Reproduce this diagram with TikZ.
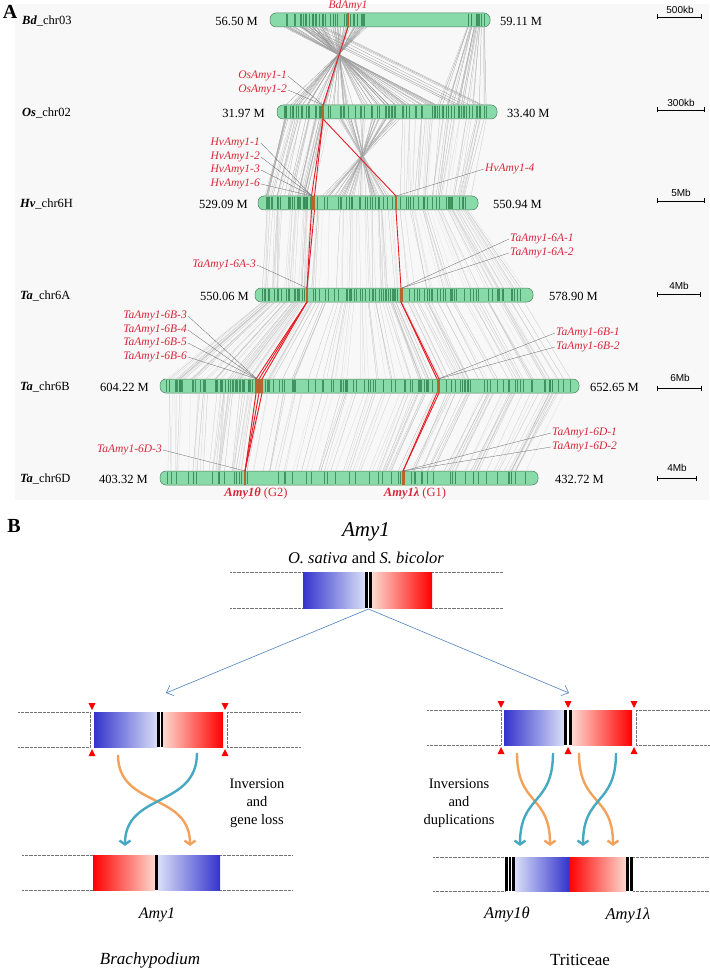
\documentclass[tikz,border=0pt]{standalone}
\usepackage{fontspec}
\setmainfont{Liberation Serif}
\newfontfamily\barfont{Liberation Sans}
\usepackage{xcolor}
\usetikzlibrary{calc,arrows.meta,positioning}
\definecolor{panelbg}{HTML}{F8F8F8}
\definecolor{chromfill}{HTML}{88DAA8}
\definecolor{chromdark}{HTML}{3A8C58}
\definecolor{chromedge}{HTML}{4C7F60}
\definecolor{genered}{HTML}{E41E26}
\definecolor{labred}{HTML}{D8273A}
\definecolor{genebox}{HTML}{B5652E}
\definecolor{bluedark}{HTML}{3434CC}
\definecolor{bluelight}{HTML}{D8DEF7}
\definecolor{redlight}{HTML}{FCD8CE}
\definecolor{reddark}{HTML}{FF0000}
\definecolor{arroworange}{HTML}{F2A25A}
\definecolor{arrowteal}{HTML}{46A9C1}
\definecolor{linkblue}{HTML}{4F81BD}

\tikzset{
  chrom/.style={fill=chromfill, draw=chromedge, line width=0.5pt, rounded corners=6pt},
  synline/.style={line width=0.25pt},
  stripe/.style={draw=chromdark},
  redlink/.style={draw=genered, line width=0.9pt},
  leader/.style={draw=black!60, line width=0.3pt},
  genelab/.style={text=labred, font=\fontsize{11.5}{13}\selectfont\itshape, inner sep=1pt},
  chromlab/.style={font=\fontsize{12.5}{14}\selectfont, inner sep=0pt},
  scalebar/.style={line width=0.8pt, {Bar[width=5pt]}-{Bar[width=5pt]}},
  scalelab/.style={font=\barfont\fontsize{10}{11}\selectfont, inner sep=0pt},
  dotline/.style={draw=black!55, line width=0.4pt, dash pattern=on 0.5pt off 0.8pt},
  conn/.style={draw=linkblue, line width=0.6pt, -{Straight Barb[length=6pt,width=11pt]}},
  swapO/.style={draw=arroworange, line width=2.4pt, -{Straight Barb[length=4pt,width=11pt]}},
  swapT/.style={draw=arrowteal, line width=2.4pt, -{Straight Barb[length=4pt,width=11pt]}},
  cuttri/.style={fill=reddark},
  textB/.style={font=\fontsize{14.5}{18}\selectfont, align=center},
  nameB/.style={font=\fontsize{17}{20}\selectfont},
}

% upper y, lower y, upper range a1 a2, lower range b1 b2, count, base grey
\newcommand{\synblock}[8]{%
  \foreach \k in {1,...,#7}{
    \pgfmathsetmacro\synT{rnd}
    \pgfmathsetmacro\synA{#3+\synT*(#4-#3)}
    \pgfmathsetmacro\synB{#5+\synT*(#6-#5)+(rnd-0.5)*6}
    \pgfmathtruncatemacro\synG{#8+22*rnd}
    \pgfmathsetmacro\synW{0.3+0.8*rnd}
    \pgfmathsetmacro\synO{rnd<0.45 ? 0.9 : 0}
    \pgfmathsetmacro\synP{rnd<0.45 ? 0.9 : 0}
    \draw[synline, draw=black!\synG] (\synA,#1+7) -- (\synB,#2-7);
    \draw[stripe, line width=\synW pt, opacity=\synO] (\synA,#1-6.3) -- (\synA,#1+6.3);
    \draw[stripe, line width=\synW pt, opacity=\synP] (\synB,#2-6.3) -- (\synB,#2+6.3);
  }}
\newcommand{\genemark}[2]{%
  \fill[genebox] ([xshift=-#2,yshift=-7pt]#1) rectangle ([xshift=#2,yshift=7pt]#1);}
\newcommand{\cutmarks}[3]{% x, top y, bottom y
  \fill[cuttri] (#1-3.5,#2-9) -- (#1+3.5,#2-9) -- (#1,#2-2) -- cycle;
  \fill[cuttri] (#1-3.5,#3+9) -- (#1+3.5,#3+9) -- (#1,#3+2) -- cycle;}

\begin{document}
\begin{tikzpicture}[x=1pt, y=-1pt]
  \useasboundingbox (0,0) rectangle (709,973);
  \pgfmathsetseed{12}

  % ---------- panel A ----------
  \fill[panelbg] (15,4) rectangle (709,500);
  \node[font=\fontsize{20}{22}\selectfont\bfseries] (labA) at (10,12) {A};

  \draw[chrom] (270,13) rectangle (490,27);
  \draw[chrom] (277,105) rectangle (497,119);
  \draw[chrom] (258,196) rectangle (478,210);
  \draw[chrom] (255,288) rectangle (533,302);
  \draw[chrom] (160,379) rectangle (579,393);
  \draw[chrom] (160,471) rectangle (538,485);

  % Bd -> Os
  \synblock{20}{112}{283}{368}{440}{286}{70}{28}
  \synblock{20}{112}{300}{330}{455}{488}{8}{28}
  \synblock{20}{112}{467}{485}{437}{487}{25}{22}
  % Os -> Hv
  \synblock{112}{203}{284}{330}{265}{312}{40}{18}
  \synblock{112}{203}{335}{400}{392}{322}{40}{22}
  \synblock{112}{203}{400}{490}{400}{471}{40}{12}
  % Hv -> 6A
  \synblock{203}{295}{264}{313}{262}{307}{30}{10}
  \synblock{203}{295}{313}{396}{307}{401}{35}{10}
  \synblock{203}{295}{396}{471}{401}{526}{40}{10}
  % 6A -> 6B
  \synblock{295}{386}{262}{307}{167}{258}{40}{10}
  \synblock{295}{386}{307}{401}{258}{438}{50}{10}
  \synblock{295}{386}{401}{526}{438}{572}{45}{10}
  % 6B -> 6D
  \synblock{386}{478}{167}{258}{167}{245}{40}{10}
  \synblock{386}{478}{258}{438}{245}{403}{50}{10}
  \synblock{386}{478}{438}{572}{403}{531}{45}{10}

  % genes
  \coordinate (bd1) at (348,20);
  \coordinate (os1) at (323,112);
  \coordinate (hv1) at (313,203);
  \coordinate (hv4) at (396,203);
  \coordinate (a3) at (307,295);
  \coordinate (a1) at (401,295);
  \coordinate (b3) at (259,386);
  \coordinate (b1) at (438,386);
  \coordinate (d3) at (245,478);
  \coordinate (d1) at (403,478);

  \draw[redlink] ([yshift=-7pt]bd1) -- ([yshift=7pt]os1);
  \draw[redlink] ([yshift=-7pt]os1) -- ([xshift=-1.5pt,yshift=7pt]hv1);
  \draw[redlink] ([yshift=-7pt]os1) -- ([xshift=1.5pt,yshift=7pt]hv1);
  \draw[redlink] ([yshift=-7pt]os1) -- ([yshift=7pt]hv4);
  \draw[redlink] ([xshift=-1.5pt,yshift=-7pt]hv1) -- ([yshift=7pt]a3);
  \draw[redlink] ([xshift=1.5pt,yshift=-7pt]hv1) -- ([yshift=7pt]a3);
  \draw[redlink] ([yshift=-7pt]hv4) -- ([yshift=7pt]a1);
  \draw[redlink] ([yshift=-7pt]a3) -- ([xshift=-3pt,yshift=7pt]b3);
  \draw[redlink] ([yshift=-7pt]a3) -- ([xshift=0pt,yshift=7pt]b3);
  \draw[redlink] ([yshift=-7pt]a3) -- ([xshift=3pt,yshift=7pt]b3);
  \draw[redlink] ([yshift=-7pt]a1) -- ([xshift=-1pt,yshift=7pt]b1);
  \draw[redlink] ([yshift=-7pt]a1) -- ([xshift=1pt,yshift=7pt]b1);
  \draw[redlink] ([xshift=-3pt,yshift=-7pt]b3) -- ([yshift=7pt]d3);
  \draw[redlink] ([yshift=-7pt]b3) -- ([yshift=7pt]d3);
  \draw[redlink] ([xshift=3pt,yshift=-7pt]b3) -- ([yshift=7pt]d3);
  \draw[redlink] ([xshift=-1pt,yshift=-7pt]b1) -- ([yshift=7pt]d1);
  \draw[redlink] ([xshift=1pt,yshift=-7pt]b1) -- ([yshift=7pt]d1);

  \genemark{bd1}{1pt}
  \genemark{os1}{1.2pt}
  \genemark{hv1}{2pt}
  \genemark{hv4}{1pt}
  \genemark{a3}{1pt}
  \genemark{a1}{1.5pt}
  \genemark{b3}{4pt}
  \genemark{b1}{1.5pt}
  \genemark{d3}{1pt}
  \genemark{d1}{1.5pt}

  % chromosome names and ends
  \node[chromlab, anchor=west] (nBd) at (22,21) {{\bfseries\itshape Bd}\_chr03};
  \node[chromlab, anchor=west] (nOs) at (22,113) {{\bfseries\itshape Os}\_chr02};
  \node[chromlab, anchor=west] (nHv) at (20,204) {{\bfseries\itshape Hv}\_chr6H};
  \node[chromlab, anchor=west] (nA) at (20,296) {{\bfseries\itshape Ta}\_chr6A};
  \node[chromlab, anchor=west] (nB) at (20,387) {{\bfseries\itshape Ta}\_chr6B};
  \node[chromlab, anchor=west] (nD) at (20,479) {{\bfseries\itshape Ta}\_chr6D};

  \node[chromlab, anchor=east] (sBd) at (258,21) {56.50 M};
  \node[chromlab, anchor=west] (eBd) at (500,21) {59.11 M};
  \node[chromlab, anchor=east] (sOs) at (265,113) {31.97 M};
  \node[chromlab, anchor=west] (eOs) at (507,113) {33.40 M};
  \node[chromlab, anchor=east] (sHv) at (248,204) {529.09 M};
  \node[chromlab, anchor=west] (eHv) at (493,204) {550.94 M};
  \node[chromlab, anchor=east] (sA) at (249,296) {550.06 M};
  \node[chromlab, anchor=west] (eA) at (549,296) {578.90 M};
  \node[chromlab, anchor=east] (sB) at (149,387) {604.22 M};
  \node[chromlab, anchor=west] (eB) at (590,387) {652.65 M};
  \node[chromlab, anchor=east] (sD) at (148,479) {403.32 M};
  \node[chromlab, anchor=west] (eD) at (555,479) {432.72 M};

  % scale bars
  \draw[scalebar] (657,17) -- (702,17);
  \node[scalelab] (kBd) at (680,10) {500kb};
  \draw[scalebar] (657,110) -- (705,110);
  \node[scalelab] (kOs) at (681,103) {300kb};
  \draw[scalebar] (657,201) -- (705,201);
  \node[scalelab] (kHv) at (681,193) {5Mb};
  \draw[scalebar] (657,294) -- (701,294);
  \node[scalelab] (kA) at (679,286) {4Mb};
  \draw[scalebar] (657,388) -- (702,388);
  \node[scalelab] (kB) at (680,378) {6Mb};
  \draw[scalebar] (657,478) -- (697,478);
  \node[scalelab] (kD) at (677,468) {4Mb};

  % gene labels
  \node[genelab] (lBd) at (348,6) {BdAmy1};
  \node[genelab, anchor=east] (lOs1) at (288,76) {OsAmy1-1};
  \node[genelab, anchor=east] (lOs2) at (288,90) {OsAmy1-2};
  \draw[leader] (lOs1.east) -- ([yshift=7pt]os1);
  \draw[leader] (lOs2.east) -- ([yshift=7pt]os1);

  \node[genelab, anchor=east] (lHv1) at (261,143) {HvAmy1-1};
  \node[genelab, anchor=east] (lHv2) at (261,157) {HvAmy1-2};
  \node[genelab, anchor=east] (lHv3) at (261,170) {HvAmy1-3};
  \node[genelab, anchor=east] (lHv6) at (261,184) {HvAmy1-6};
  \foreach \n in {lHv1,lHv2,lHv3,lHv6}
    \draw[leader] (\n.east) -- ([xshift=-1pt,yshift=7pt]hv1);
  \node[genelab, anchor=west] (lHv4) at (484,169) {HvAmy1-4};
  \draw[leader] (lHv4.west) -- ([yshift=7pt]hv4);

  \node[genelab, anchor=east] (lA3) at (257,265) {TaAmy1-6A-3};
  \draw[leader] (lA3.east) -- ([yshift=7pt]a3);
  \node[genelab, anchor=west] (lA1) at (509,239) {TaAmy1-6A-1};
  \node[genelab, anchor=west] (lA2) at (509,253) {TaAmy1-6A-2};
  \draw[leader] (lA1.west) -- ([xshift=1pt,yshift=7pt]a1);
  \draw[leader] (lA2.west) -- ([xshift=1pt,yshift=7pt]a1);

  \node[genelab, anchor=east] (lB3) at (188,316) {TaAmy1-6B-3};
  \node[genelab, anchor=east] (lB4) at (188,330) {TaAmy1-6B-4};
  \node[genelab, anchor=east] (lB5) at (188,343) {TaAmy1-6B-5};
  \node[genelab, anchor=east] (lB6) at (188,357) {TaAmy1-6B-6};
  \foreach \n in {lB3,lB4,lB5,lB6}
    \draw[leader] (\n.east) -- ([xshift=-2pt,yshift=7pt]b3);
  \node[genelab, anchor=west] (lB1) at (555,333) {TaAmy1-6B-1};
  \node[genelab, anchor=west] (lB2) at (555,347) {TaAmy1-6B-2};
  \draw[leader] (lB1.west) -- ([yshift=7pt]b1);
  \draw[leader] (lB2.west) -- ([yshift=7pt]b1);

  \node[genelab, anchor=east] (lD3) at (163,450) {TaAmy1-6D-3};
  \draw[leader] (lD3.east) -- ([yshift=7pt]d3);
  \node[genelab, anchor=west] (lD1) at (551,433) {TaAmy1-6D-1};
  \node[genelab, anchor=west] (lD2) at (551,447) {TaAmy1-6D-2};
  \draw[leader] (lD1.west) -- ([yshift=7pt]d1);
  \draw[leader] (lD2.west) -- ([yshift=7pt]d1);

  \node[text=labred, font=\fontsize{12.5}{14}\selectfont] (gG2) at (256,493) {{\bfseries\itshape Amy1θ} (G2)};
  \node[text=labred, font=\fontsize{12.5}{14}\selectfont] (gG1) at (415,493) {{\bfseries\itshape Amy1λ} (G1)};

  % ---------- panel B ----------
  \node[font=\fontsize{20}{22}\selectfont\bfseries] (labB) at (14,526) {B};
  \node[font=\fontsize{21}{24}\selectfont\itshape] (titleB) at (366,532) {Amy1};
  \node[font=\fontsize{16.5}{19}\selectfont] (spB) at (366,558) {\textit{O. sativa} and \textit{S. bicolor}};

  % ancestral block
  \draw[dotline] (230,572) -- (303,572) (230,608) -- (303,608) (432,572) -- (503,572) (432,608) -- (503,608);
  \shade[left color=bluedark, right color=bluelight] (303,572) rectangle (365,608);
  \shade[left color=redlight, right color=reddark] (372,572) rectangle (432,608);
  \fill (365,572) rectangle (372,608);
  \draw[white, line width=1.2pt] (368.5,572) -- (368.5,608);

  \coordinate (split) at (368.5,609);
  \coordinate (tipL) at (166,693);
  \coordinate (tipR) at (569,693);
  \draw[conn] (split) -- (tipL);
  \draw[conn] (split) -- (tipR);

  % Brachypodium, before
  \draw[dotline] (18,712) -- (90,712) (18,747) -- (90,747) (227,712) -- (300,712) (227,747) -- (300,747);
  \draw[dotline] (90,712) -- (90,747) (227,712) -- (227,747);
  \shade[left color=bluedark, right color=bluelight] (94,712) rectangle (157,747);
  \shade[left color=redlight, right color=reddark] (163,712) rectangle (223,747);
  \fill (157,712) rectangle (163,747);
  \draw[white, line width=1pt] (160,712) -- (160,747);
  \cutmarks{92}{712}{747}
  \cutmarks{225}{712}{747}

  \draw[swapO] (118,755) .. controls (118,808) and (190,792) .. (190,846);
  \draw[swapT] (197,753) .. controls (197,808) and (125,792) .. (125,846);
  \node[textB] (invL) at (257,803) {Inversion\\and\\gene loss};

  % Brachypodium, after
  \draw[dotline] (22,855) -- (93,855) (22,890) -- (93,890) (220,855) -- (292,855) (220,890) -- (292,890);
  \shade[left color=reddark, right color=redlight] (93,855) rectangle (155,890);
  \shade[left color=bluelight, right color=bluedark] (158,855) rectangle (220,890);
  \fill (155,855) rectangle (158,890);
  \node[nameB, font=\fontsize{16}{19}\selectfont\itshape] (amyBd) at (157,915) {Amy1};
  \node[nameB, font=\fontsize{17}{20}\selectfont\itshape] (brachy) at (150,960) {Brachypodium};

  % Triticeae, before
  \draw[dotline] (427,710) -- (501,710) (427,745) -- (501,745) (636,710) -- (709,710) (636,745) -- (709,745);
  \draw[dotline] (501,710) -- (501,745) (636,710) -- (636,745);
  \shade[left color=bluedark, right color=bluelight] (504,710) rectangle (564,745);
  \shade[left color=redlight, right color=reddark] (572,710) rectangle (632,745);
  \fill (564,710) rectangle (572,745);
  \draw[white, line width=1.2pt] (568,710) -- (568,745);
  \cutmarks{501}{710}{745}
  \cutmarks{568}{710}{745}
  \cutmarks{634}{710}{745}

  \draw[swapO] (517,753) .. controls (517,806) and (550,794) .. (550,846);
  \draw[swapT] (553,753) .. controls (553,806) and (520,794) .. (520,846);
  \draw[swapO] (579,753) .. controls (579,806) and (613,794) .. (613,846);
  \draw[swapT] (616,753) .. controls (616,806) and (583,794) .. (583,846);
  \node[textB] (invR) at (459,803) {Inversions\\and\\duplications};

  % Triticeae, after
  \draw[dotline] (433,857) -- (505,857) (433,891) -- (505,891) (633,857) -- (709,857) (633,891) -- (709,891);
  \shade[left color=bluelight, right color=bluedark] (515,857) rectangle (569,891);
  \shade[left color=reddark, right color=redlight] (569,857) rectangle (626,891);
  \fill (505,857) rectangle (515,891);
  \draw[white, line width=0.8pt] (508.4,857) -- (508.4,891) (511.7,857) -- (511.7,891);
  \fill (626,857) rectangle (633,891);
  \draw[white, line width=1pt] (629.5,857) -- (629.5,891);
  \node[nameB, font=\fontsize{16.5}{19}\selectfont\itshape] (amyTh) at (507,915) {Amy1θ};
  \node[nameB, font=\fontsize{16.5}{19}\selectfont\itshape] (amyLa) at (628,915) {Amy1λ};
  \node[nameB] (tritic) at (580,960) {Triticeae};
\end{tikzpicture}
\end{document}
